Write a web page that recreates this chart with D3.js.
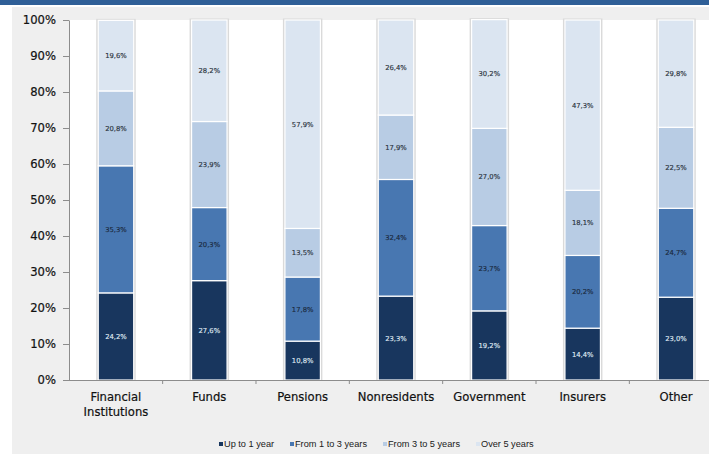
<!DOCTYPE html>
<html>
<head>
<meta charset="utf-8">
<script src="https://cdn.jsdelivr.net/npm/d3@7"></script>
<style>
  html, body { margin: 0; padding: 0; background: #ffffff; }
  svg { display: block; }
</style>
</head>
<body>
<svg id="chart" width="709" height="454"></svg>
<script>
// Holder categories and maturity buckets (share of holdings, %)
const categories = ["Financial Institutions", "Funds", "Pensions", "Nonresidents", "Government", "Insurers", "Other"];
const seriesNames = ["Up to 1 year", "From 1 to 3 years", "From 3 to 5 years", "Over 5 years"];
const upTo1 = [24.2, 27.6, 10.8, 23.3, 19.2, 14.4, 23.0];
const from1to3 = [35.3, 20.3, 17.8, 32.4, 23.7, 20.2, 24.7];
const from3to5 = [20.8, 23.9, 13.5, 17.9, 27.0, 18.1, 22.5];
const over5 = [19.6, 28.2, 57.9, 26.4, 30.2, 47.3, 29.8];
const yTicks = [0, 10, 20, 30, 40, 50, 60, 70, 80, 90, 100];

const colors = ["#18365e", "#4877b1", "#b8cce4", "#dbe5f1"];
const labelColors = ["#dfe6f0", "#1b2a3e", "#2b3440", "#2b3440"];

const svg = d3.select("#chart");
const W = 709, H = 454;
const plot = { left: 69.3, top: 20, bottom: 380, right: 722.7 };

// page furniture: top rule, grey panel, white plot area
svg.append("rect").attr("x", 0).attr("y", 0).attr("width", W).attr("height", 5).attr("fill", "#2f5f97");
svg.append("rect").attr("x", 12).attr("y", 7).attr("width", W - 12).attr("height", H - 7).attr("fill", "#efefef");
svg.append("rect").attr("x", plot.left).attr("y", plot.top)
  .attr("width", W - plot.left).attr("height", plot.bottom - plot.top).attr("fill", "#ffffff");

const x = d3.scaleBand().domain(categories).range([plot.left, plot.right])
  .paddingInner(0.62).paddingOuter(0.31);
const y = d3.scaleLinear().domain([0, 100]).range([plot.bottom, plot.top]);

const table = categories.map((c, i) => ({
  cat: c, s0: upTo1[i], s1: from1to3[i], s2: from3to5[i], s3: over5[i]
}));
const keys = ["s0", "s1", "s2", "s3"];
const stacked = d3.stack().keys(keys)(table);

// bar outline (grey halo behind each stacked column)
svg.append("g").selectAll("rect").data(table).join("rect")
  .attr("x", d => x(d.cat) - 2)
  .attr("width", x.bandwidth() + 4)
  .attr("y", d => y(d.s0 + d.s1 + d.s2 + d.s3) - 1.5)
  .attr("height", d => y(0) - y(d.s0 + d.s1 + d.s2 + d.s3) + 1.5)
  .attr("fill", "#dadada");

const layers = svg.append("g").selectAll("g").data(stacked).join("g");
layers.selectAll("rect").data((s, si) => s.map(d => ({ d, si }))).join("rect")
  .attr("x", o => x(o.d.data.cat))
  .attr("width", x.bandwidth())
  .attr("y", o => y(o.d[1]))
  .attr("height", o => y(o.d[0]) - y(o.d[1]))
  .attr("fill", o => colors[o.si])
  .attr("stroke", "#ffffff")
  .attr("stroke-width", 1.2);

layers.selectAll("text").data((s, si) => s.map(d => ({ d, si }))).join("text")
  .attr("x", o => x(o.d.data.cat) + x.bandwidth() / 2)
  .attr("y", o => (y(o.d[0]) + y(o.d[1])) / 2)
  .attr("dy", "0.36em")
  .attr("text-anchor", "middle")
  .attr("font-family", "DejaVu Sans, sans-serif")
  .attr("font-size", 6.8)
  .attr("fill", o => labelColors[o.si])
  .attr("stroke", o => labelColors[o.si])
  .attr("stroke-width", 0.15)
  .text(o => d3.format(".1f")(o.d[1] - o.d[0]).replace(".", ",") + "%");

// y axis
const yAxis = svg.append("g").attr("transform", `translate(${plot.left - 0.3},0)`)
  .call(d3.axisLeft(y).tickValues(yTicks).tickSize(6).tickSizeOuter(0).tickPadding(7)
    .tickFormat(v => v + "%"));
yAxis.select(".domain").attr("stroke", "#8c8c8c");
yAxis.selectAll(".tick line").attr("stroke", "#8c8c8c");
yAxis.selectAll("text").attr("font-family", "DejaVu Sans, sans-serif")
  .attr("font-size", 11.6).attr("fill", "#111111")
  .attr("stroke", "#111111").attr("stroke-width", 0.2);

// x axis baseline and category separators
svg.append("line").attr("x1", plot.left - 0.3).attr("x2", W).attr("y1", plot.bottom + 0.5).attr("y2", plot.bottom + 0.5)
  .attr("stroke", "#8c8c8c");
svg.append("g").selectAll("line").data(categories).join("line")
  .attr("x1", c => x(c) + x.bandwidth() / 2 + x.step() / 2)
  .attr("x2", c => x(c) + x.bandwidth() / 2 + x.step() / 2)
  .attr("y1", plot.bottom).attr("y2", plot.bottom + 4)
  .attr("stroke", "#8c8c8c");

// category labels, split onto two lines where needed
const catLines = { "Financial Institutions": ["Financial", "Institutions"] };
const cl = svg.append("g").selectAll("text").data(categories).join("text")
  .attr("x", c => x(c) + x.bandwidth() / 2)
  .attr("y", 401)
  .attr("text-anchor", "middle")
  .attr("font-family", "DejaVu Sans, sans-serif")
  .attr("font-size", 11.6)
  .attr("fill", "#111111")
  .attr("stroke", "#111111")
  .attr("stroke-width", 0.2);
cl.selectAll("tspan").data(c => (catLines[c] || [c]).map(t => ({ t, c }))).join("tspan")
  .attr("x", o => x(o.c) + x.bandwidth() / 2)
  .attr("dy", (o, i) => i === 0 ? 0 : 15)
  .text(o => o.t);

// legend
const legendX = [219, 290, 383, 476];
const lg = svg.append("g").selectAll("g").data(seriesNames).join("g")
  .attr("transform", (d, i) => `translate(${legendX[i]},444)`);
lg.append("rect").attr("x", 0).attr("y", -2).attr("width", 4).attr("height", 4)
  .attr("fill", (d, i) => colors[i]);
lg.append("text").attr("x", 5).attr("y", 0).attr("dy", "0.35em")
  .attr("font-family", "Liberation Sans, Arial, sans-serif")
  .attr("font-size", 9.2).attr("fill", "#1a1a1a")
  .text(d => d);
</script>
</body>
</html>
